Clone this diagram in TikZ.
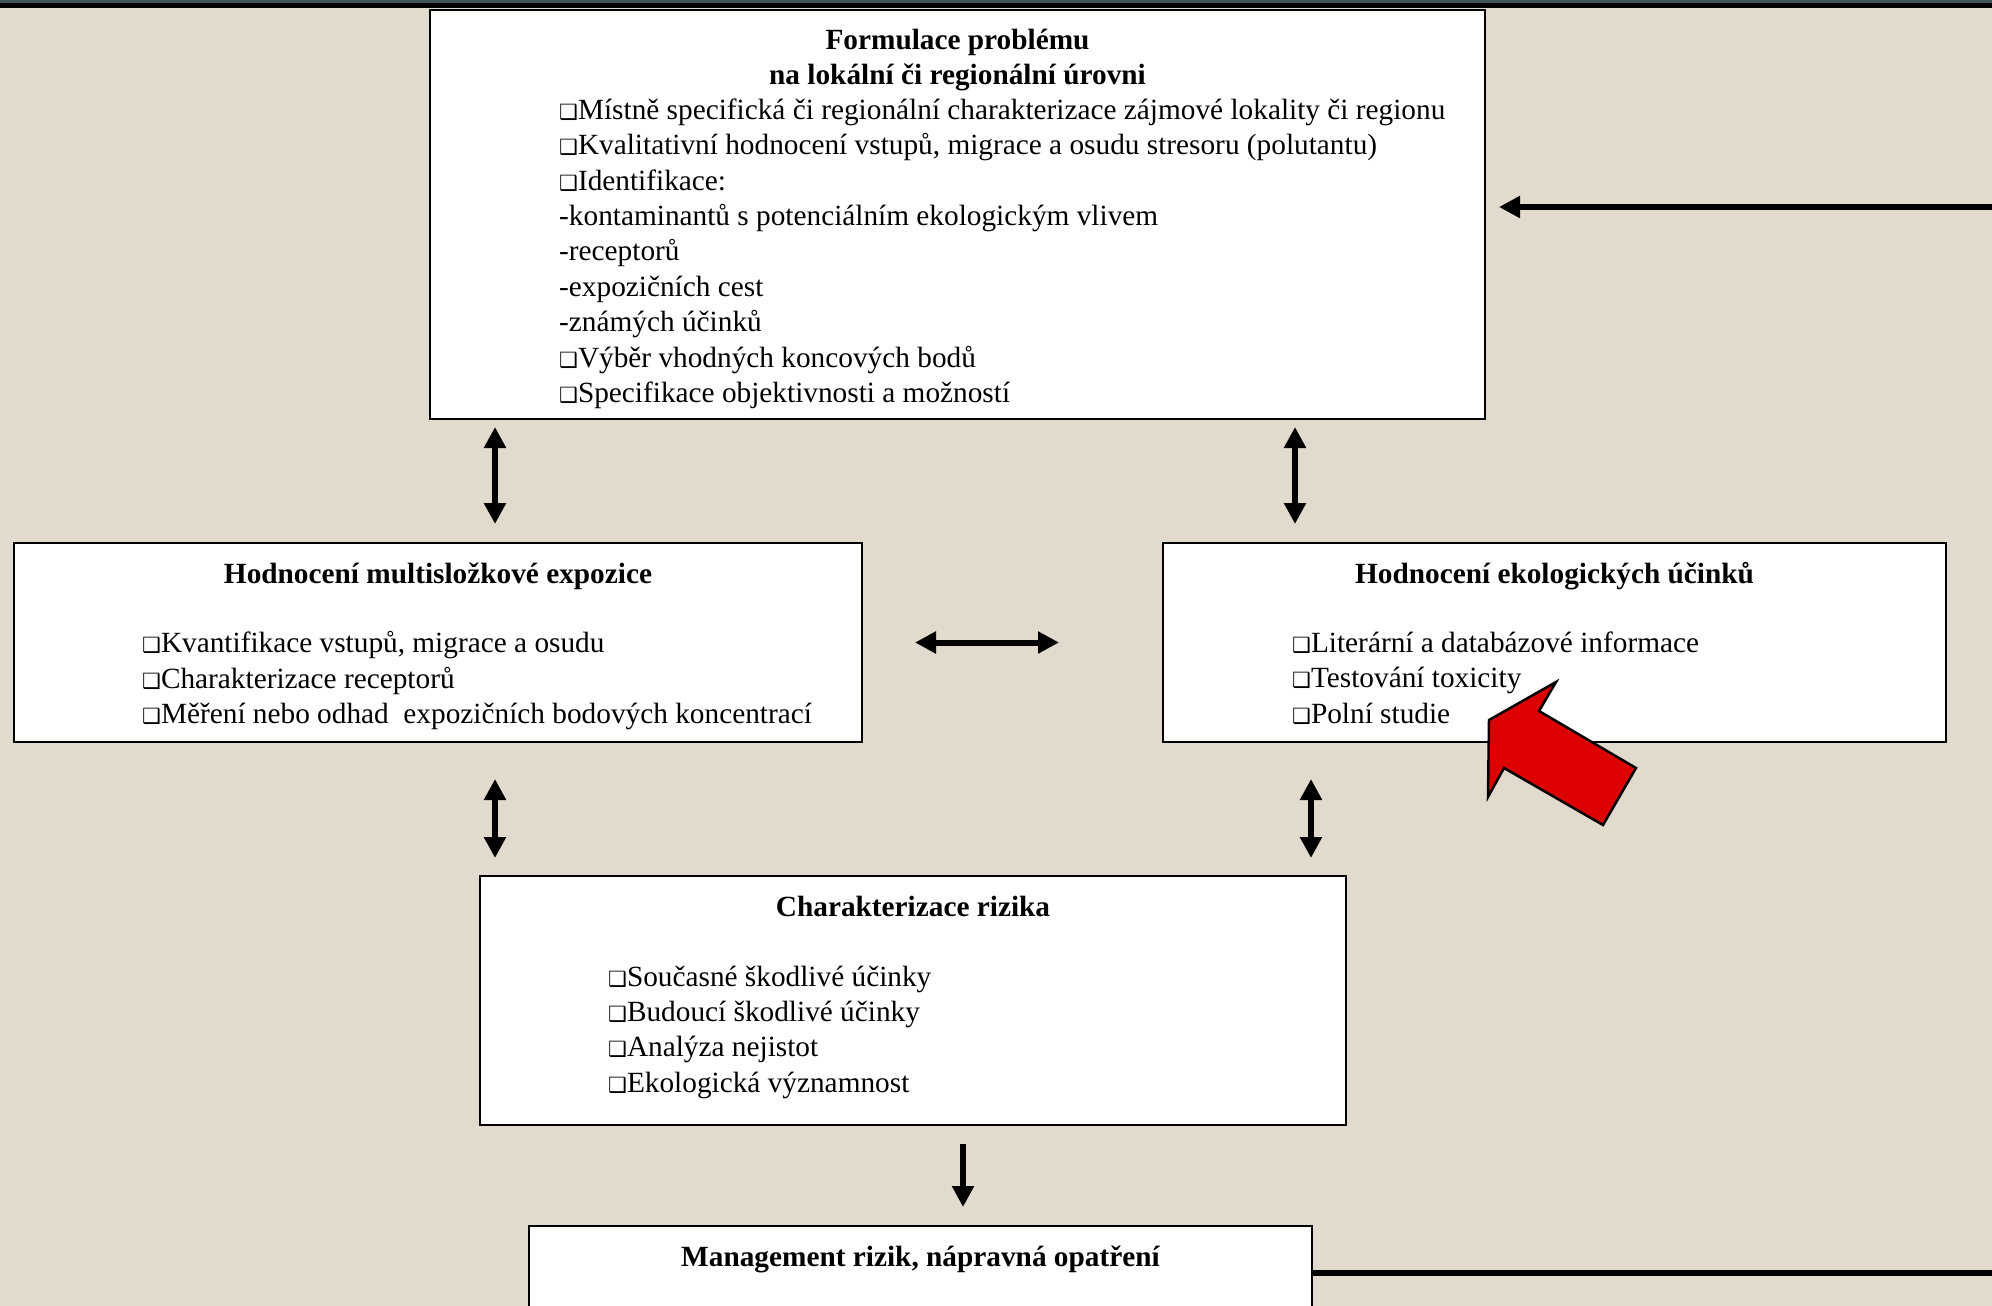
\documentclass[tikz,border=0pt]{standalone}
\usepackage{fontspec}
\setmainfont{Liberation Serif}
\newfontfamily\dejavu{DejaVu Sans}
\usepackage{xcolor}
\usetikzlibrary{positioning,arrows.meta}
\definecolor{PaperBeige}{HTML}{E2DACD}
\definecolor{SlateBar}{HTML}{3E5656}
\definecolor{AlarmRed}{HTML}{DD0000}
\newcommand{\sqb}{{\dejavu\fontsize{21pt}{21pt}\selectfont ❑}}
\newcommand{\bodyfont}{\fontsize{29.3pt}{35.4pt}\selectfont}

\begin{document}
\begin{tikzpicture}[
    x=1pt, y=-1pt,
    box/.style={draw, line width=2pt, fill=white, inner sep=0pt, anchor=north west},
    head/.style={font=\bodyfont\bfseries, inner sep=0pt, align=center, execute at begin node=\strut},
    items/.style={font=\bodyfont, inner sep=0pt, align=left, execute at begin node=\strut},
    dblarrow/.style={line width=6pt, {Triangle[length=21pt,width=21pt]}-{Triangle[length=21pt,width=21pt]}},
    onearrow/.style={line width=6pt, -{Triangle[length=21pt,width=21pt]}},
    feedback/.style={line width=6.5pt, -{Triangle[length=21pt,width=21pt]}},
    alarm/.style={draw=black, line width=2.5pt, fill=AlarmRed, line join=miter}
  ]

  % page and top bar
  \useasboundingbox (0,0) rectangle (1992,1306);
  \clip (0,0) rectangle (1992,1306);
  \fill[PaperBeige] (0,0) rectangle (1992,1306);
  \fill[black] (0,0) rectangle (1992,8);
  \fill[SlateBar] (0,0) rectangle (1992,3);

  % boxes
  \node[box, minimum width=1055pt, minimum height=409pt] (problem) at (429,9) {};
  \node[box, minimum width=848pt, minimum height=199pt] (exposure) at (13,542) {};
  \node[box, minimum width=783pt, minimum height=199pt] (effects) at (1162,542) {};
  \node[box, minimum width=866pt, minimum height=249pt] (risk) at (479,875) {};
  \node[box, minimum width=783pt, minimum height=130pt] (mgmt) at (528,1225) {};

  % headings
  \node[head, below=20pt of problem.north] (problemhead) {Formulace problému\\na lokální či regionální úrovni};
  \node[head, below=16.5pt of exposure.north] (exposurehead) {Hodnocení multisložkové expozice};
  \node[head, below=16.5pt of effects.north] (effectshead) {Hodnocení ekologických účinků};
  \node[head, below=16.5pt of risk.north] (riskhead) {Charakterizace rizika};
  \node[head, below=16.5pt of mgmt.north] (mgmthead) {Management rizik, nápravná opatření};

  % bullet lists
  \node[items, below right=89.5pt and 130pt of problem.north west] (problemlist) {%
    \sqb Místně specifická či regionální charakterizace zájmové lokality či regionu\\
    \sqb Kvalitativní hodnocení vstupů, migrace a osudu stresoru (polutantu)\\
    \sqb Identifikace:\\
    -kontaminantů s potenciálním ekologickým vlivem\\
    -receptorů\\
    -expozičních cest\\
    -známých účinků\\
    \sqb Výběr vhodných koncových bodů\\
    \sqb Specifikace objektivnosti a možností};
  \node[items, below right=89.5pt and 129pt of exposure.north west] (exposurelist) {%
    \sqb Kvantifikace vstupů, migrace a osudu\\
    \sqb Charakterizace receptorů\\
    \sqb Měření nebo odhad~ expozičních bodových koncentrací};
  \node[items, below right=89.5pt and 130pt of effects.north west] (effectslist) {%
    \sqb Literární a databázové informace\\
    \sqb Testování toxicity\\
    \sqb Polní studie};
  \node[items, below right=90.5pt and 129pt of risk.north west] (risklist) {%
    \sqb Současné škodlivé účinky\\
    \sqb Budoucí škodlivé účinky\\
    \sqb Analýza nejistot\\
    \sqb Ekologická významnost};

  % connectors
  \draw[dblarrow, shorten <=7pt, shorten >=18pt]
    ([xshift=66pt]problem.south west) -- ([xshift=66pt]problem.south west |- exposure.north);
  \draw[dblarrow, shorten <=7pt, shorten >=18pt]
    ([xshift=133pt]effects.north west |- problem.south) -- ([xshift=133pt]effects.north west);
  \draw[dblarrow, shorten <=52pt, shorten >=103pt] (exposure.east) -- (effects.west);
  \draw[dblarrow, shorten <=36pt, shorten >=17pt]
    ([xshift=482pt]exposure.south west) -- ([xshift=482pt]exposure.south west |- risk.north);
  \draw[dblarrow, shorten <=36pt, shorten >=17pt]
    ([xshift=149pt]effects.south west) -- ([xshift=149pt]effects.south west |- risk.north);
  \draw[onearrow, shorten <=18pt, shorten >=18pt]
    ([xshift=50pt]risk.south) -- ([xshift=50pt]risk.south |- mgmt.north);
  \draw[feedback, shorten >=13pt]
    ([yshift=-48pt]mgmt.north east) -- ++(700,0) |- ([yshift=-198pt]problem.north east);

  % red pointer
  \draw[alarm] (1489,720) -- (1556,682) -- (1539,711) -- (1636,768)
    -- (1603,825) -- (1504,768) -- (1488,797) -- cycle;

\end{tikzpicture}
\end{document}
